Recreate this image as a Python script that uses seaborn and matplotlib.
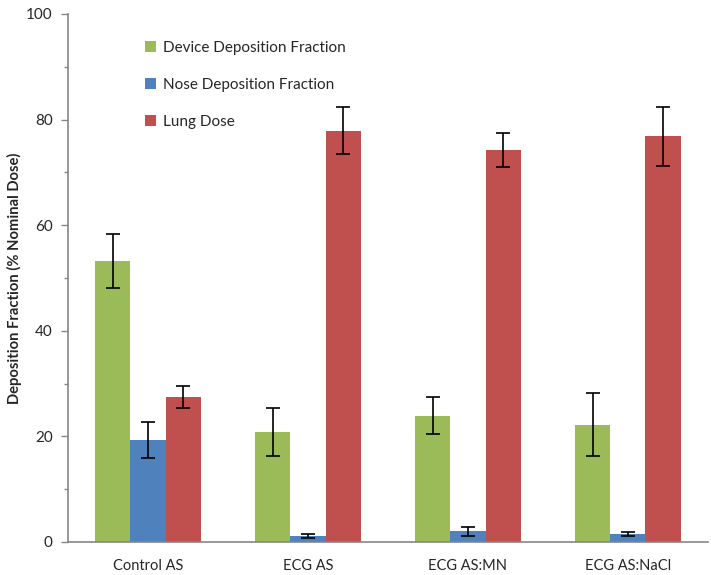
import matplotlib
matplotlib.use("Agg")
import matplotlib.pyplot as plt
import seaborn as sns
import pandas as pd
from matplotlib.ticker import MultipleLocator

categories = ["Control AS", "ECG AS", "ECG AS:MN", "ECG AS:NaCl"]
series = ["Device Deposition Fraction", "Nose Deposition Fraction", "Lung Dose"]
device = [53.2, 20.8, 23.9, 22.2]
device_err = [5.1, 4.6, 3.5, 6.0]
nose = [19.3, 1.2, 2.0, 1.5]
nose_err = [3.4, 0.4, 0.9, 0.3]
lung = [27.5, 77.9, 74.2, 76.8]
lung_err = [2.1, 4.4, 3.2, 5.5]
colors = ["#9BBB59", "#4F81BD", "#C0504D"]

vals = [device, nose, lung]
errs = [device_err, nose_err, lung_err]
rows = []
for s, v in zip(series, vals):
    for c, x in zip(categories, v):
        rows.append({"cat": c, "series": s, "val": x})
df = pd.DataFrame(rows)

sns.set_style("white")
plt.rcParams["font.family"] = ["Lato", "DejaVu Sans"]

fig = plt.figure(figsize=(7.11, 5.75), dpi=100)
ax = fig.add_axes([0.0956, 0.0574, 0.9, 0.9183])

sns.barplot(data=df, x="cat", y="val", hue="series", order=categories,
            hue_order=series, palette=colors, saturation=1, width=0.66,
            gap=0, errorbar=None, ax=ax, linewidth=0)

for cont, e in zip(ax.containers, errs):
    xs = [p.get_x() + p.get_width() / 2 for p in cont.patches]
    hs = [p.get_height() for p in cont.patches]
    ax.errorbar(xs, hs, yerr=e, fmt="none", ecolor="black", elinewidth=1.2,
                capsize=5, capthick=1.2, zorder=5)

ax.set_xlim(-0.5, 3.5)
ax.set_ylim(0, 100)
ax.yaxis.set_major_locator(MultipleLocator(20))
ax.yaxis.set_minor_locator(MultipleLocator(10))
ax.tick_params(axis="y", which="major", length=5, width=1, color="#868686",
               direction="out", left=True, labelsize=11, pad=6)
ax.tick_params(axis="y", which="minor", length=3, width=1, color="#868686",
               direction="out", left=True)
ax.tick_params(axis="x", length=0, labelsize=10.5, pad=12)
ax.set_xlabel("")
ax.set_ylabel("Deposition Fraction (% Nominal Dose)", fontsize=10.6,
              fontweight="bold")
ax.yaxis.set_label_coords(-0.072, 0.5)
for sp in ["top", "right"]:
    ax.spines[sp].set_visible(False)
for sp in ["left", "bottom"]:
    ax.spines[sp].set_color("#868686")
    ax.spines[sp].set_linewidth(1.2)

leg = ax.legend(loc="upper left", bbox_to_anchor=(0.099, 0.975), frameon=False,
                fontsize=11, handlelength=0.7, handleheight=0.7,
                labelspacing=1.5, handletextpad=0.5)

fig.savefig("out.png", dpi=100)
